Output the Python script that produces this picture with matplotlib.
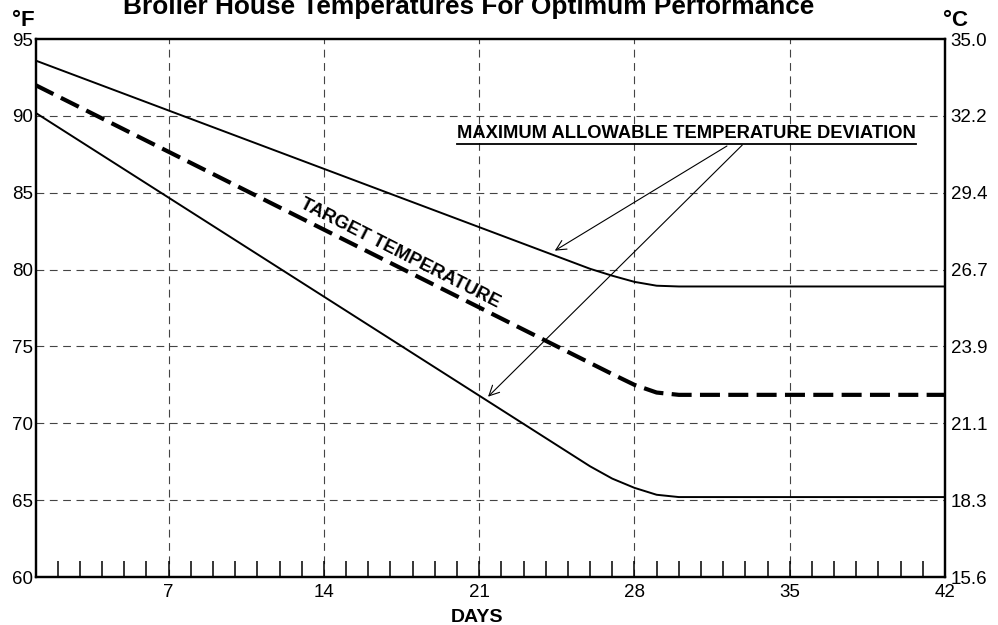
import matplotlib
matplotlib.use("Agg")
import matplotlib.pyplot as plt
from matplotlib.lines import Line2D

plt.rcParams['font.family'] = ['Liberation Sans', 'DejaVu Sans']

# breakpoints (day, deg F)
upper_days = [1, 26, 27, 28, 29, 30, 42]
upper_f = [93.6, 80.05, 79.6, 79.2, 78.95, 78.9, 78.9]

target_days = [1, 27, 28, 29, 30, 42]
target_f = [92.0, 73.2, 72.5, 72.0, 71.85, 71.85]

lower_days = [1, 26, 27, 28, 29, 30, 42]
lower_f = [90.2, 67.2, 66.4, 65.8, 65.35, 65.2, 65.2]

day_ticks = [7, 14, 21, 28, 35, 42]
all_days = list(range(1, 43))
f_ticks = [60, 65, 70, 75, 80, 85, 90, 95]
c_labels = ["15.6", "18.3", "21.1", "23.9", "26.7", "29.4", "32.2", "35.0"]

fig = plt.figure(figsize=(9.98, 6.25), dpi=100)
ax = fig.add_axes([0.0356, 0.0768, 0.9113, 0.8608])

ax.plot(upper_days, upper_f, color='black', lw=1.4, solid_joinstyle='round')
ax.plot(lower_days, lower_f, color='black', lw=1.4, solid_joinstyle='round')
ax.plot(target_days, target_f, color='black', lw=3.0, dashes=(4.8, 2.0))

ax.set_xlim(1, 42)
ax.set_ylim(60, 95)

# grid
for d in day_ticks[:-1]:
    ax.axvline(d, color='#444444', lw=0.8, dashes=(7, 5), zorder=0)
for f in f_ticks[1:-1]:
    ax.axhline(f, color='#444444', lw=0.8, dashes=(7, 5), zorder=0)

for s in ax.spines.values():
    s.set_linewidth(1.6)

ax.set_xticks(day_ticks)
ax.set_xticks(all_days, minor=True)
ax.tick_params(axis='x', which='both', direction='in', length=11.5, width=1.1,
               labelsize=13.5, pad=5)
ax.set_yticks(f_ticks)
ax.tick_params(axis='y', length=0, labelsize=13.5, pad=2)

ax2 = ax.twinx()
ax2.set_ylim(60, 95)
ax2.set_yticks(f_ticks)
ax2.set_yticklabels(c_labels)
ax2.tick_params(axis='y', length=0, labelsize=13.5, pad=4)
for s in ax2.spines.values():
    s.set_linewidth(1.6)

fig.text(469 / 998, 1 - 14 / 625, "Broiler House Temperatures For Optimum Performance",
         ha='center', va='baseline', fontsize=18.9, weight='bold')
fig.text(23 / 998, 1 - 21 / 625, "°F", ha='center', va='center', fontsize=16, weight='bold')
fig.text(956 / 998, 1 - 20 / 625, "°C", ha='center', va='center', fontsize=16, weight='bold')
fig.text(477 / 998, 1 - 617 / 625, "DAYS", ha='center', va='center', fontsize=14, weight='bold')

ax.text(17.41, 81.05, "TARGET TEMPERATURE", rotation=-27, rotation_mode='anchor',
        ha='center', va='center', fontsize=13.5, weight='bold')

lab = ax.text(30.35, 88.85, "MAXIMUM ALLOWABLE TEMPERATURE DEVIATION",
              ha='center', va='center', fontsize=13.2, weight='bold')

arrow_kw = dict(arrowstyle='->', color='black', lw=0.8, mutation_scale=18,
                shrinkA=0, shrinkB=0)
ax.annotate("", xy=(24.41, 81.23), xytext=(32.17, 88.04), arrowprops=arrow_kw)
ax.annotate("", xy=(21.40, 71.73), xytext=(32.86, 88.10), arrowprops=arrow_kw)

# underline the label
fig.canvas.draw()
bb = lab.get_window_extent()
W, H = fig.get_size_inches() * fig.dpi
uy = (bb.y0 - 1.5) / H
fig.add_artist(Line2D([bb.x0 / W, bb.x1 / W], [uy, uy], color='black', lw=1.3))

fig.savefig("out.png", dpi=100)
